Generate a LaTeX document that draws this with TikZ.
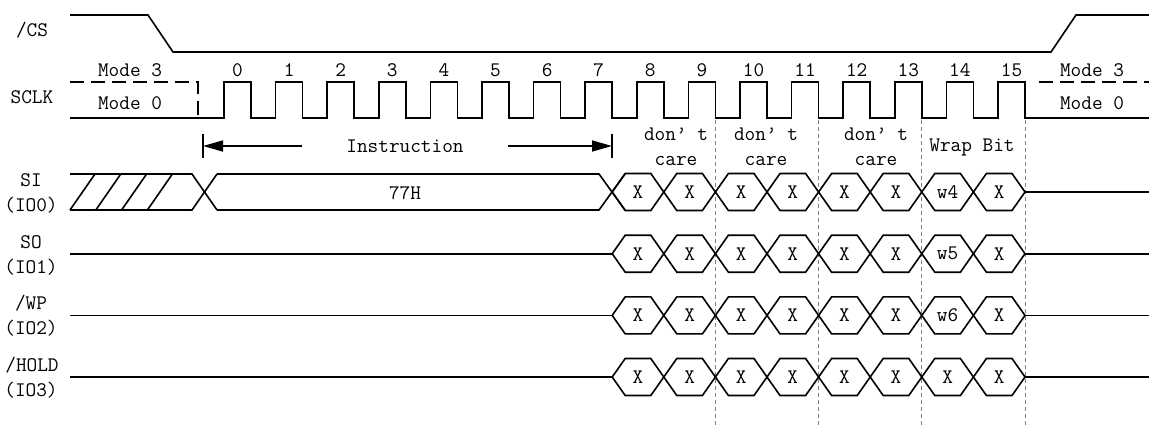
\documentclass[tikz,border=0pt]{standalone}
\usepackage{fontspec}
\usetikzlibrary{arrows.meta}

\tikzset{
  wave/.style={line width=1.6pt, line join=miter},
  modeline/.style={line width=1.6pt, dash pattern=on 14pt off 7pt},
  guide/.style={gray, line width=0.8pt, dash pattern=on 4pt off 3pt},
  txt/.style={font=\fontsize{20.7}{24}\selectfont\ttfamily, inner sep=0pt},
  span/.style={line width=1.6pt, -{Triangle[length=20pt,width=11pt]}},
}

\begin{document}
\begin{tikzpicture}[x=1pt,y=-1pt]
  \useasboundingbox (0,0) rectangle (1149,426);

  % signal names
  \begin{scope}[every node/.style={txt}]
    \node (cs)   at (32,30)  {/CS};
    \node (sclk) at (32,97)  {SCLK};
    \node (si)   at (31,180) {SI};
    \node (io0)  at (31,205) {(IO0)};
    \node (so)   at (31,242) {SO};
    \node (io1)  at (31,267) {(IO1)};
    \node (wp)   at (31,303) {/WP};
    \node (io2)  at (31,328) {(IO2)};
    \node (hold) at (32,365) {/HOLD};
    \node (io3)  at (31,390) {(IO3)};
  \end{scope}

  % /CS
  \draw[wave] (70,15) -- (148,15) -- (173,52) -- (1051,52) -- (1076,15) -- (1149,15);

  % SCLK
  \draw[modeline] (70,82) -- (198,82) -- (198,118);
  \draw[modeline] (1039,82) -- (1149,82);
  \draw[wave] (70,118)
    \foreach \i in {0,...,15} {
      -- ({224+51.6*\i},118) -- ({224+51.6*\i},82) -- ({251+51.6*\i},82) -- ({251+51.6*\i},118)
    } -- (1149,118);
  \begin{scope}[every node/.style={txt}]
    \foreach \i in {0,...,15}
      \node (n\i) at ({237.5+51.6*\i},70) {\i};
    \node (m3l) at (130,70)  {Mode 3};
    \node (m0l) at (130,103) {Mode 0};
    \node (m3r) at (1092,70)  {Mode 3};
    \node (m0r) at (1092,103) {Mode 0};
  \end{scope}

  % guides
  \foreach \k in {9,11,13,15}
    \draw[guide] ({251+51.6*\k},120) -- ({251+51.6*\k},426);

  % instruction span
  \coordinate (il) at (203,146);
  \coordinate (ir) at (612,146);
  \draw[wave] (203,134) -- (203,158);
  \draw[wave] (612,134) -- (612,158);
  \node[txt] (instr) at (405,146) {Instruction};
  \draw[span] (302,146) -- (il);
  \draw[span] (508,146) -- (ir);

  \begin{scope}[every node/.style={txt}]
    \node (dc1a) at (676,134) {don’ t};
    \node (dc1b) at (676,161) {care};
    \node (dc2a) at (766,134) {don’ t};
    \node (dc2b) at (766,161) {care};
    \node (dc3a) at (876,134) {don’ t};
    \node (dc3b) at (876,161) {care};
    \node (wrap) at (972,147) {Wrap Bit};
  \end{scope}

  % SI : hatched, then 77H
  \draw[wave] (70,174) -- (192,174) -- (217,210);
  \draw[wave] (70,210) -- (192,210) -- (217,174);
  \foreach \j in {0,...,3}
    \draw[wave] ({70+25.8*\j},210) -- ({95+25.8*\j},174);
  \draw[wave] (217,174) -- (599,174) -- (625,210);
  \draw[wave] (217,210) -- (599,210) -- (625,174);
  \node[txt] (cmd) at (405,193) {77H};

  % SO, /WP, /HOLD idle lines
  \foreach \m in {253.7,315.4,377}
    \draw[wave] (70,\m) -- (612.2,\m);

  % data cells
  \foreach \m/\w [count=\r] in {192/w4,253.7/w5,315.4/w6,377/X} {
    \foreach \k in {8,...,15} {
      \pgfmathsetmacro\a{251+51.6*(\k-1)}
      \pgfmathsetmacro\b{251+51.6*\k}
      \draw[wave] (\a,\m) -- (\a+13,\m-18.5) -- (\b-13,\m-18.5) -- (\b,\m)
                  -- (\b-13,\m+18.5) -- (\a+13,\m+18.5) -- cycle;
      \node[txt] (c\r-\k) at ({(\a+\b)/2},\m) {\ifnum\k=14 \w\else X\fi};
    }
    \draw[wave] (1025,\m) -- (1149,\m);
  }

\end{tikzpicture}
\end{document}
